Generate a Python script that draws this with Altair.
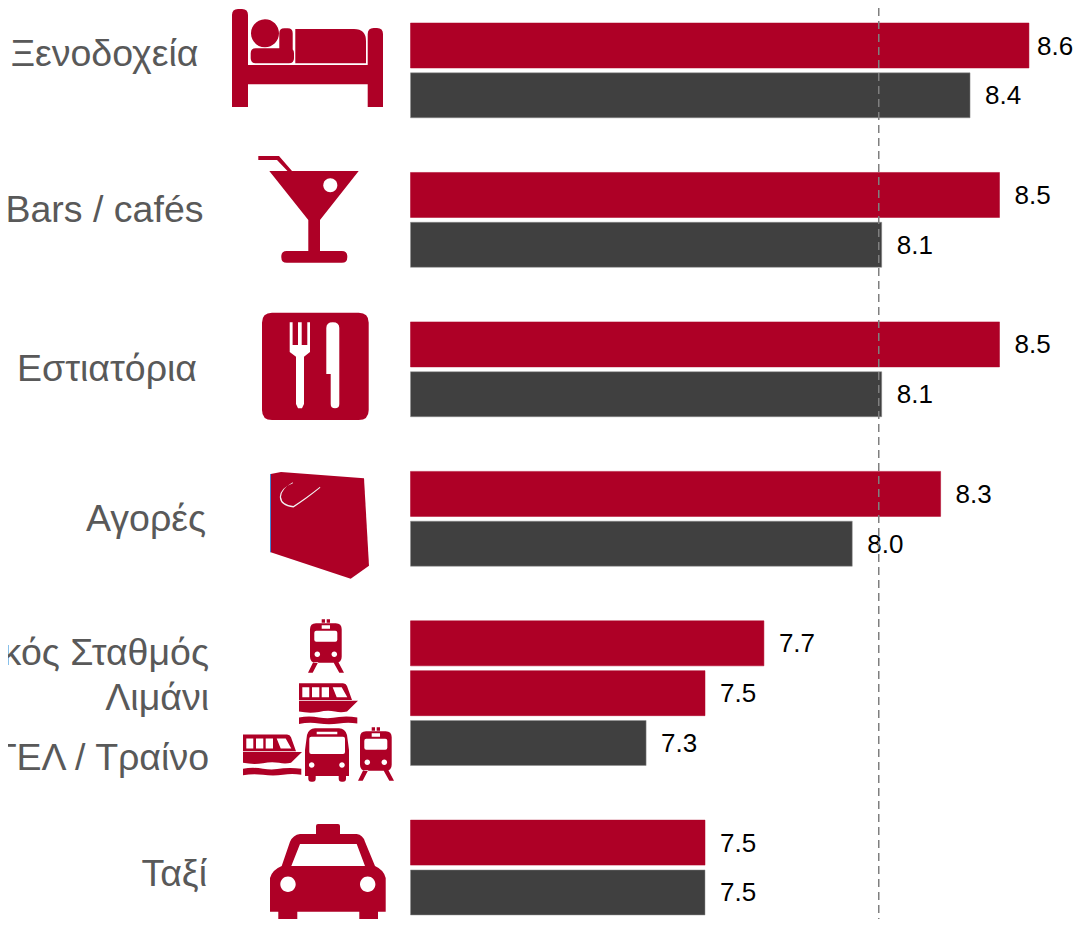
import re
import altair as alt
import pandas as pd

# ---------- data ----------
rows = ["Ξενοδοχεία a", "Ξενοδοχεία b", "gap1", "Bars a", "Bars b", "gap2",
        "Εστιατόρια a", "Εστιατόρια b", "gap3", "Αγορές a", "Αγορές b", "gap4",
        "Σταθμός", "Λιμάνι", "ΚΤΕΛ", "gap5", "Ταξί a", "Ταξί b"]
values = [8.6, 8.4, None, 8.5, 8.1, None, 8.5, 8.1, None, 8.3, 8.0, None,
          7.7, 7.5, 7.3, None, 7.5, 7.5]
series = ["red", "dark", None, "red", "dark", None, "red", "dark", None, "red", "dark", None,
          "red", "red", "dark", None, "red", "dark"]
baseline = 6.5
reference = 8.09
labels = ["Ξενοδοχεία", "Bars / cafés", "Εστιατόρια", "Αγορές",
          "Σιδηροδρομικός Σταθμός", "Λιμάνι", "ΚΤΕΛ / Τραίνο", "Ταξί"]
label_right = [198.5, 203.5, 197, 206, 209, 209, 209, 207]
label_mid = [55, 211, 370, 520, 654, 699, 759, 875]

RED = "#ae0026"
DARK = "#404040"

# ---------- page pixel <-> scale helpers (layout of the slide) ----------
W, H = 1066, 911
PX_PER_UNIT = 294.5
STEP = 49.82
BAR = 45
X_DOMAIN = [baseline - 402.5 / PX_PER_UNIT, baseline + (W - 402.5) / PX_PER_UNIT]
Y_TOP = 15


def to_score(page_x):
    return baseline + (page_x - 410.5) / PX_PER_UNIT


def to_slot(page_y):
    return (page_y - 8 - Y_TOP) / STEP


x_scale = alt.Scale(domain=X_DOMAIN, range=[0, W], nice=False, zero=False)
y_scale = alt.Scale(domain=[-Y_TOP / STEP, (H - Y_TOP) / STEP], range=[0, H], nice=False, zero=False)

# ---------- icon path helpers ----------


def poly(*pts):
    return "M" + " L".join(f"{x} {y}" for x, y in pts) + " Z"


def rrect(x0, y0, x1, y1, r=0, rb=None):
    rb = r if rb is None else rb
    return (f"M{x0 + r} {y0} L{x1 - r} {y0} Q{x1} {y0} {x1} {y0 + r} "
            f"L{x1} {y1 - rb} Q{x1} {y1} {x1 - rb} {y1} L{x0 + rb} {y1} "
            f"Q{x0} {y1} {x0} {y1 - rb} L{x0} {y0 + r} Q{x0} {y0} {x0 + r} {y0} Z")


def circ(cx, cy, r):
    k = 0.5523 * r
    return (f"M{cx + r} {cy} C{cx + r} {cy + k} {cx + k} {cy + r} {cx} {cy + r} "
            f"C{cx - k} {cy + r} {cx - r} {cy + k} {cx - r} {cy} "
            f"C{cx - r} {cy - k} {cx - k} {cy - r} {cx} {cy - r} "
            f"C{cx + k} {cy - r} {cx + r} {cy - k} {cx + r} {cy} Z")


def shift(d, ox, oy):
    out, i = [], 0
    for tok in re.findall(r"[MLCQZ]|-?\d+\.?\d*", d):
        if tok.isalpha():
            out.append(tok)
            i = 0
        else:
            v = float(tok) - (ox if i % 2 == 0 else oy)
            out.append(f"{v:.2f}")
            i += 1
    return " ".join(out)


bed_red = " ".join([
    rrect(232, 9, 248, 107, 6, 0.01),
    rrect(367.7, 28, 383, 107, 6, 0.01),
    rrect(232, 65, 383, 84.3),
    circ(265, 33.3, 14),
    rrect(250.7, 48.3, 294, 63.3, 5),
    rrect(279.3, 28.3, 292.7, 63.3, 5),
    "M295.3 29 L354 29 Q366 29 366 41 L366 63.3 L295.3 63.3 Z",
])
cocktail_red = " ".join([
    poly((269.3, 171), (358.7, 171), (320, 220), (320, 252), (308.3, 252), (308.3, 220)),
    rrect(281.3, 251, 347.3, 262.7, 5.5),
    poly((258.3, 156), (279, 156), (292, 171), (287.5, 171), (277, 160), (258.3, 160)),
])
cocktail_white = circ(330.3, 185.3, 7)
rest_red = rrect(262, 312.7, 368.7, 420, 10)
rest_white = " ".join([
    poly((289.7, 322.3), (292.6, 322.3), (292.6, 345), (298, 345), (298, 322.3), (301.7, 322.3),
         (301.7, 345), (307.3, 345), (307.3, 322.3), (310, 322.3), (310, 352), (304, 356.7),
         (304, 404), (302, 408.3), (298, 408.3), (296, 404), (296, 356.7), (289.7, 352)),
    "M326.3 328 Q326.3 322.3 332.8 322.3 Q339.3 322.3 339.3 328 L339.3 404 Q339.3 408.3 335 408.3 "
    "Q330.7 408.3 330.7 404 L330.7 374 L326.3 374 Z",
])
bag_red = poly((270.7, 474), (281, 472), (364, 478.3), (369, 565.7), (350.7, 578.7), (270.7, 552.3))
bag_blue = poly((270, 474), (270.9, 474), (270.9, 552.3), (270, 552.3))
bag_white = ("M292.7 482.2 Q281 489 281 497 Q282 505 293.3 506 Q306 498 320 486.8 L320.3 487.8 "
             "Q306 499.5 293.5 507.4 Q280 506 279.8 497 Q280 488 292.9 483.2 Z")
train_red = " ".join([
    rrect(310, 623.3, 341.7, 662.7, 6),
    rrect(321.7, 619.3, 325, 622.7),
    rrect(326.7, 619.3, 330, 622.7),
    poly((313.3, 662), (308, 672.7), (312.7, 672.7), (318.3, 662)),
    poly((338.3, 662), (344, 672.7), (339.3, 672.7), (333.3, 662)),
])
train_white = " ".join([
    rrect(314.3, 630.7, 337.3, 641.7, 2),
    rrect(321.7, 625.3, 330, 628.7),
    circ(317.3, 654.3, 2.8),
    circ(334.3, 654.3, 2.8),
])
boat_red = " ".join([
    "M299 683.3 L343 683.3 Q346 683.3 347 686 L352 700 L299 700 Z",
    "M299 700.8 L358 700.8 L347 711.5 Q341 713 335 711.5 Q327 710 319 712 Q309 713.5 299 711.5 Z",
    "M299 717.5 Q309 715.5 319 717.5 Q329 719 339 717 Q348 716 357.3 717.5 L357.3 723.5 "
    "Q348 722 339 723.5 Q329 725 319 723.5 Q309 722 299 724 Z",
])
boat_white = " ".join([
    rrect(302.3, 687.3, 309.3, 697.3),
    rrect(312, 687.3, 319.3, 697.3),
    rrect(321.7, 687.3, 329, 697.3),
    poly((332.7, 687.3), (341.7, 687.3), (347.3, 697.3), (336.7, 697.3)),
])
bus_red = " ".join([
    "M315 728.3 L339 728.3 Q345 728.3 347 735 L349 750 L349 776 L305 776 L305 750 L307 735 Q309 728.3 315 728.3 Z",
    rrect(308.3, 775, 315.7, 781.7, 0.01, 3),
    rrect(338.7, 775, 346, 781.7, 0.01, 3),
])
bus_white = " ".join([
    rrect(309.3, 736.7, 345, 754, 2),
    rrect(316.7, 731.7, 337.3, 734.3),
    circ(311.7, 765, 2.8),
    circ(342, 765, 2.8),
])
taxi_red = " ".join([
    rrect(316, 824, 340, 836, 2, 0.01),
    "M300 834 L356.7 834 Q363 835 365 841.7 L375 866 Q384 870 385.7 878 L385.7 911.7 L270 911.7 "
    "L270 878 Q272 870 281.7 866 L290 841.7 Q293 835 300 834 Z",
    rrect(278.3, 910, 297.3, 926.7, 0.01, 4),
    rrect(359.3, 910, 378, 926.7, 0.01, 4),
])
taxi_white = " ".join([
    poly((300, 844), (356.7, 844), (365, 866), (291.3, 866)),
    circ(288, 884.3, 7.7),
    circ(367.7, 884.3, 7.7),
])

# icon: (anchor used to write the path, [(path, colour)...], [places])
icons = [
    ((307, 58), [(bed_red, RED)], [(307, 58)]),
    ((314, 210), [(cocktail_red, RED), (cocktail_white, "white")], [(314, 210)]),
    ((315, 366), [(rest_red, RED), (rest_white, "white")], [(315, 366)]),
    ((320, 525), [(bag_red, RED), (bag_blue, "#2f7fd6"), (bag_white, "#f2f2f2")], [(320, 525)]),
    ((326, 646), [(train_red, RED), (train_white, "white")], [(326, 646), (376, 754)]),
    ((328, 703), [(boat_red, RED), (boat_white, "white")], [(328, 703), (272, 754.3)]),
    ((327, 755), [(bus_red, RED), (bus_white, "white")], [(327, 755)]),
    ((328, 875), [(taxi_red, RED), (taxi_white, "white")], [(328, 875)]),
]

# ---------- tables ----------
bars = pd.DataFrame({"row": rows, "value": values, "series": series})
bars["slot"] = range(len(bars))
bars = bars.dropna(subset=["value"])
bars["slot2"] = bars["slot"] + BAR / STEP
bars["mid"] = bars["slot"] + (BAR / 2 + 1) / STEP
bars["base"] = baseline
# the widest label would pass the page edge: bring it just inside
bars["lx"] = bars["value"].where(bars["value"] < 8.6, bars["value"] - 7 / PX_PER_UNIT)

bar_layer = alt.Chart(bars).mark_bar(clip=False).encode(
    x=alt.X("value:Q", scale=x_scale, axis=None),
    x2="base:Q",
    y=alt.Y("slot:Q", scale=y_scale, axis=None),
    y2="slot2:Q",
    color=alt.Color("series:N", scale=alt.Scale(domain=["red", "dark"], range=[RED, DARK]), legend=None),
    stroke=alt.Stroke("series:N", scale=alt.Scale(domain=["red", "dark"], range=[RED, "#8c8c8c"]), legend=None),
    strokeWidth=alt.value(0.5),
)

value_layer = alt.Chart(bars).mark_text(
    align="left", baseline="middle", dx=15, fontSize=26, font="Liberation Sans", color="#000000"
).encode(
    x=alt.X("lx:Q", scale=x_scale, axis=None),
    y=alt.Y("mid:Q", scale=y_scale, axis=None),
    text=alt.Text("value:Q", format=".1f"),
)

label_df = pd.DataFrame({
    "label": labels,
    "px": [to_score(v) for v in label_right],
    "py": [to_slot(v) for v in label_mid],
})
label_layer = alt.Chart(label_df).mark_text(
    align="right", baseline="middle", fontSize=37.5, font="Liberation Sans", color="#595959"
).encode(
    x=alt.X("px:Q", scale=x_scale, axis=None),
    y=alt.Y("py:Q", scale=y_scale, axis=None),
    text="label:N",
)

rule_layer = alt.Chart(pd.DataFrame({"v": [reference]})).mark_rule(
    color="#7f7f7f", strokeWidth=1.5, strokeDash=[8, 5]
).encode(
    x=alt.X("v:Q", scale=x_scale, axis=None),
    y=alt.value(0),
    y2=alt.value(H),
)

icon_layers = []
for (ox, oy), parts, places in icons:
    place_df = pd.DataFrame({
        "px": [to_score(p[0]) for p in places],
        "py": [to_slot(p[1]) for p in places],
    })
    for path, colour in parts:
        icon_layers.append(
            alt.Chart(place_df).mark_point(
                shape=shift(path, ox, oy), size=4, filled=True, fill=colour,
                opacity=1, strokeWidth=0, clip=False
            ).encode(
                x=alt.X("px:Q", scale=x_scale, axis=None),
                y=alt.Y("py:Q", scale=y_scale, axis=None),
            )
        )

chart = alt.layer(bar_layer, value_layer, label_layer, *icon_layers, rule_layer).properties(
    width=W, height=H, padding=0, autosize=alt.AutoSizeParams(type="none"),
    background="white",
).configure_view(stroke=None)

chart.save("out.html", embed_options={"renderer": "svg", "actions": False})
